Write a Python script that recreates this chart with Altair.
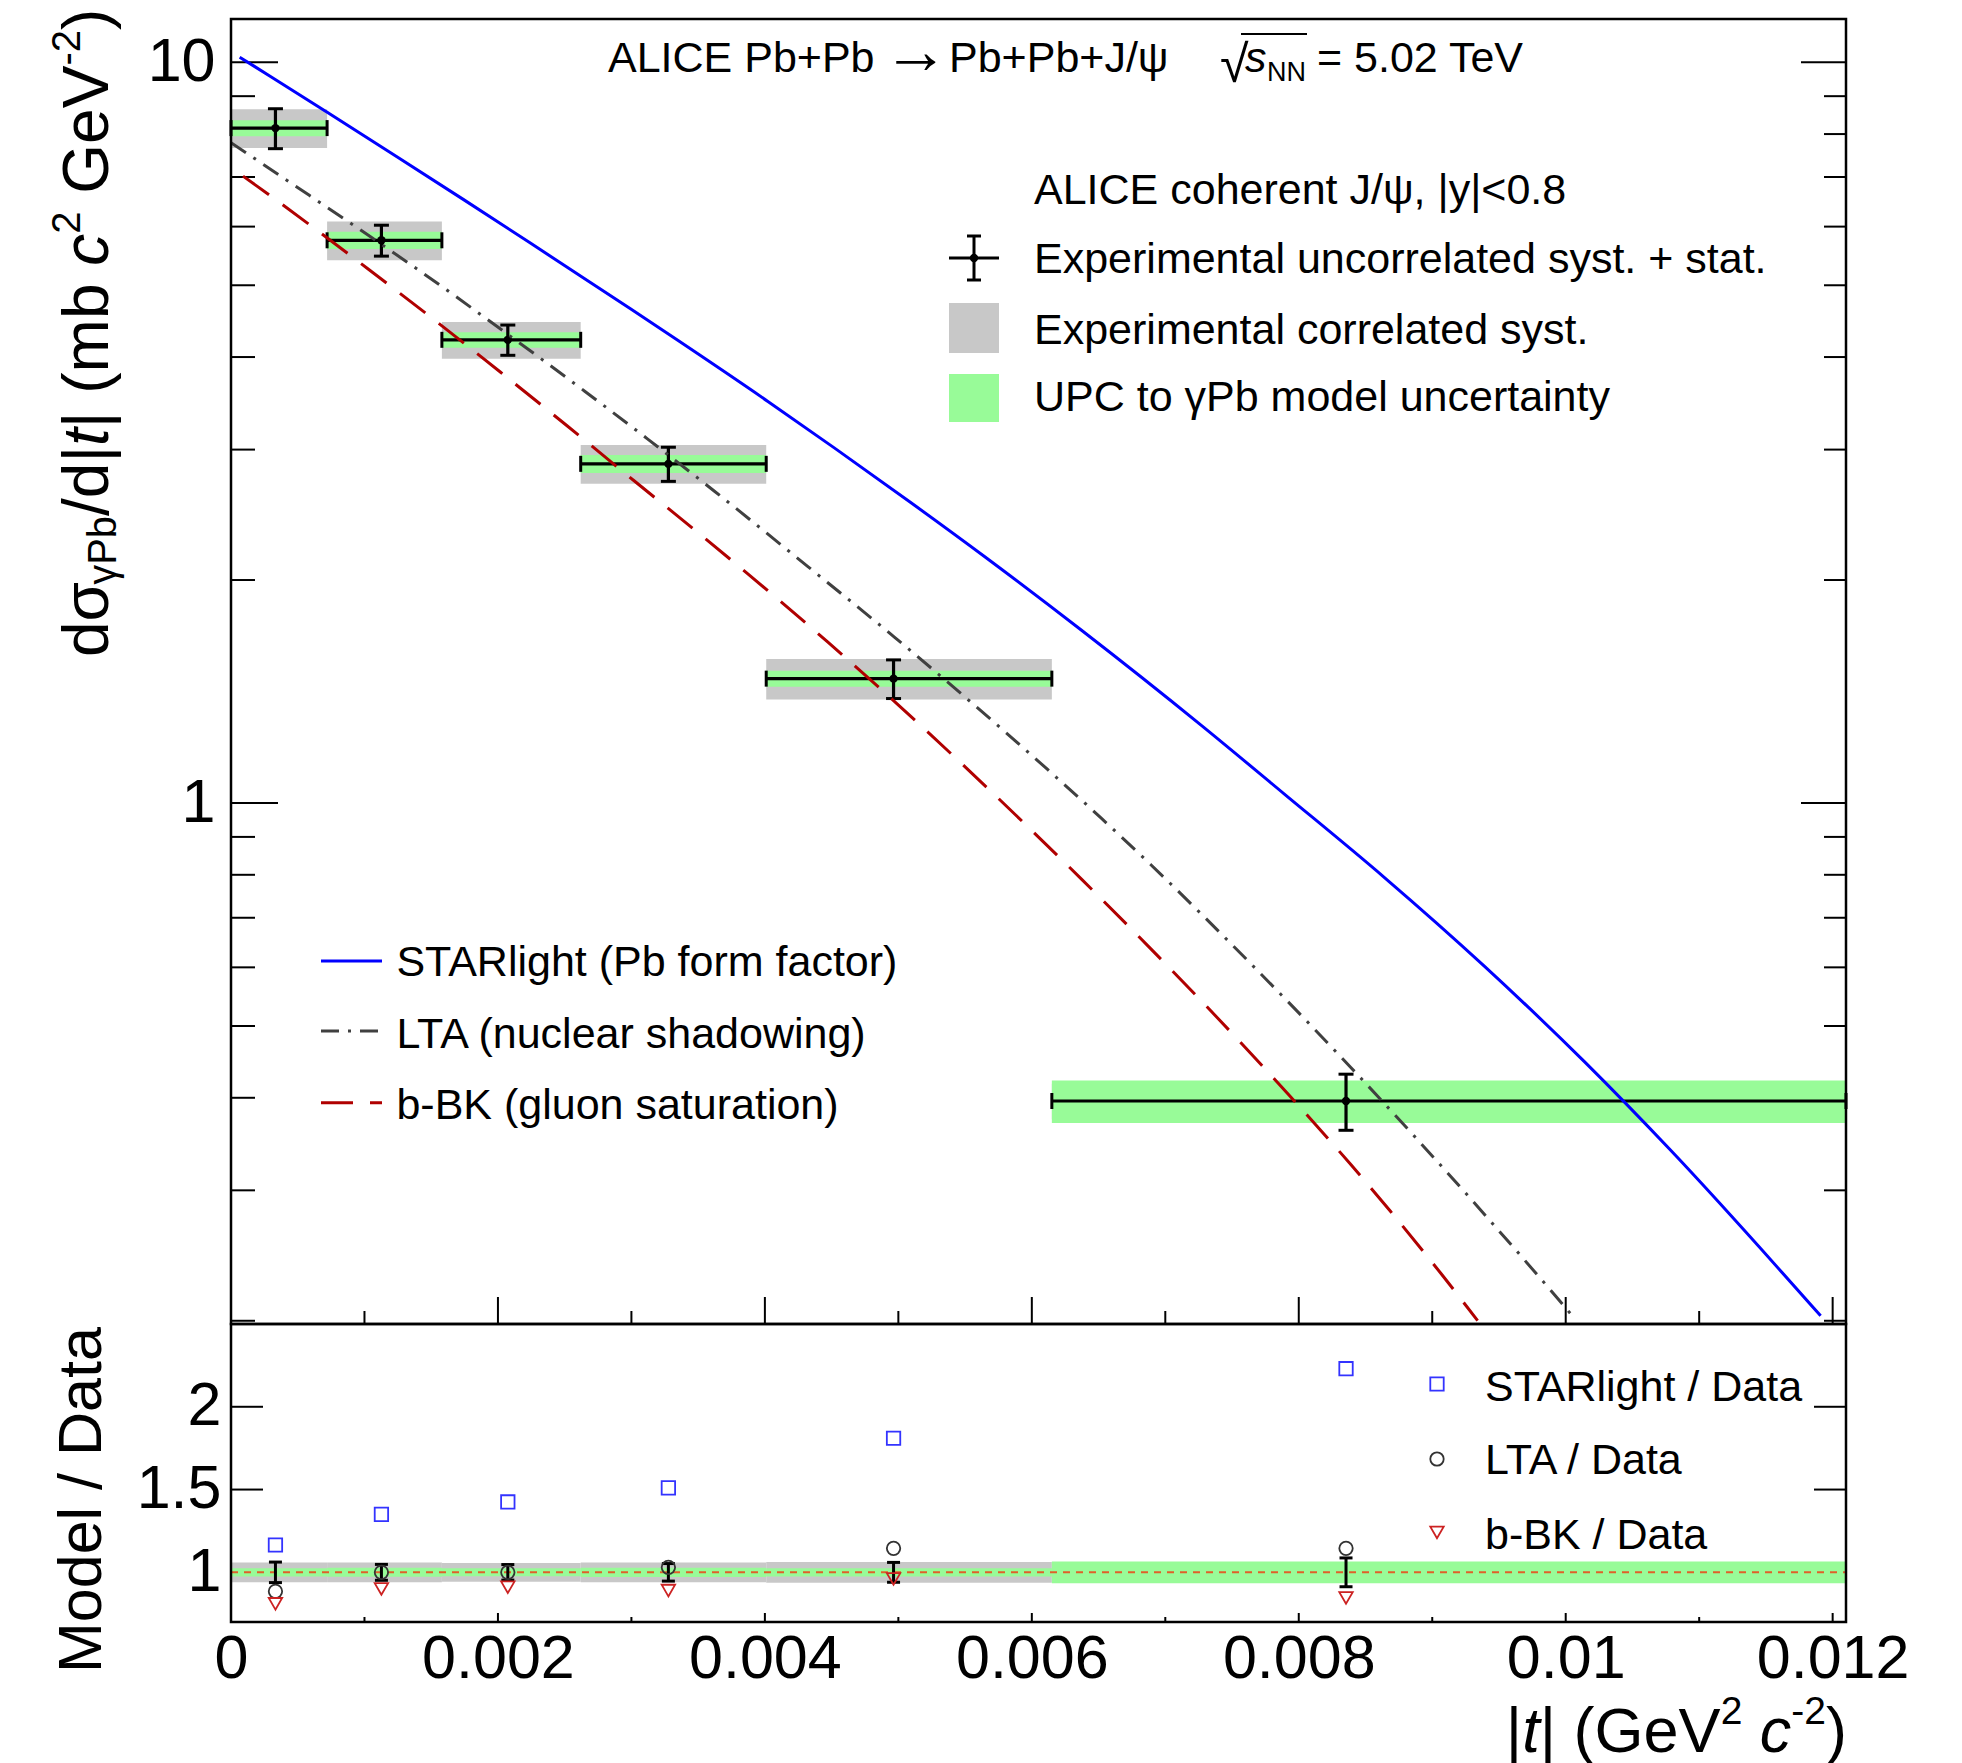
import altair as alt
import pandas as pd

# ----------------------------- data -----------------------------
bin_lo = [0.0, 0.00072, 0.00158, 0.00262, 0.00401, 0.00615]
bin_hi = [0.00072, 0.00158, 0.00262, 0.00401, 0.00615, 0.0121]
t_center = [0.000333, 0.001127, 0.002074, 0.003277, 0.004964, 0.008354]
dsigma = [8.15, 5.75, 4.22, 2.87, 1.472, 0.396]
rel_uncorr = [0.062, 0.048, 0.047, 0.053, 0.060, 0.087]
rel_corr = [0.060, 0.060, 0.057, 0.060, 0.063, 0.055]
rel_model = [0.025, 0.027, 0.024, 0.028, 0.025, 0.066]

ratio_starlight = [1.165, 1.35, 1.425, 1.51, 1.81, 2.23]
ratio_lta = [0.885, 1.0, 1.0, 1.03, 1.145, 1.145]
ratio_bbk = [0.81, 0.90, 0.91, 0.89, 0.96, 0.845]

starlight_t = [0.000065, 0.00029, 0.000715, 0.00124, 0.00174, 0.00224, 0.00261, 0.00299,
               0.00335, 0.00402, 0.00452, 0.00509, 0.00564, 0.00637, 0.00727, 0.00789,
               0.00864, 0.00939, 0.01014, 0.01079, 0.01191]
starlight_v = [10.16, 9.585, 8.574, 7.462, 6.530, 5.705, 5.159, 4.650, 4.210, 3.487, 3.016,
               2.547, 2.155, 1.712, 1.273, 1.029, 0.7938, 0.6023, 0.4475, 0.3392, 0.2031]
lta_t = [0.0, 0.000415, 0.00104, 0.00167, 0.00191, 0.00265, 0.00312, 0.00362, 0.00432,
         0.00497, 0.00547, 0.00612, 0.00652, 0.00689, 0.00764, 0.00839, 0.00889, 0.00944,
         0.00994, 0.01007]
lta_v = [7.79, 6.937, 5.821, 4.849, 4.511, 3.597, 3.102, 2.638, 2.087, 1.675, 1.405, 1.109,
         0.954, 0.826, 0.607, 0.4395, 0.3511, 0.2721, 0.2143, 0.2011]
bbk_t = [0.00009, 0.00029, 0.00059, 0.00102, 0.00152, 0.00202, 0.00252, 0.00302, 0.00352,
         0.00387, 0.00447, 0.00497, 0.00547, 0.00597, 0.00637, 0.00689, 0.00739, 0.00794,
         0.00839, 0.00869, 0.00907, 0.00934]
bbk_v = [7.02, 6.613, 6.032, 5.272, 4.494, 3.815, 3.228, 2.723, 2.301, 2.040, 1.650, 1.372,
         1.132, 0.929, 0.790, 0.636, 0.513, 0.401, 0.325, 0.2806, 0.2311, 0.2001]

x_ticks_major = [0.0, 0.002, 0.004, 0.006, 0.008, 0.010, 0.012]
x_ticks_minor = [0.001, 0.003, 0.005, 0.007, 0.009, 0.011]
y_ticks_major = [1, 10]
y_ticks_minor = [0.2, 0.3, 0.4, 0.5, 0.6, 0.7, 0.8, 0.9, 2, 3, 4, 5, 6, 7, 8, 9]
ratio_ticks = [1.0, 1.5, 2.0]

x_domain = [0.0, 0.0121]
y_domain = [0.198, 11.44]
ratio_domain = [0.7, 2.5]

# ----------------------------- style -----------------------------
FONT = "Liberation Sans"
W = 1615
H_UP = 1305
H_LO = 298
OX, OY_UP, OY_LO = 230, 18, 1323  # page positions of the plot origins (for text layout)

GREY = "#c8c8c8"
GREEN = "#98fb98"
BLUE = "#0000ff"
LTA_C = "#404040"
BBK_C = "#b00000"
LTA_DASH = [18, 9, 3, 9]
BBK_DASH = [32, 17]

CW = {' ': 278, '(': 333, ')': 333, '+': 584, ',': 278, '-': 333, '.': 278, '/': 278,
      ':': 278, '<': 584, '=': 584, '>': 584, '|': 260,
      'A': 667, 'B': 667, 'C': 722, 'D': 722, 'E': 667, 'F': 611, 'G': 778, 'H': 722,
      'I': 278, 'J': 500, 'K': 667, 'L': 556, 'M': 833, 'N': 722, 'O': 778, 'P': 667,
      'R': 722, 'S': 667, 'T': 611, 'U': 722, 'V': 667,
      'a': 556, 'b': 556, 'c': 500, 'd': 556, 'e': 556, 'f': 278, 'g': 556, 'h': 556,
      'i': 222, 'j': 222, 'k': 500, 'l': 222, 'm': 833, 'n': 556, 'o': 556, 'p': 556,
      'r': 333, 's': 500, 't': 278, 'u': 556, 'v': 500, 'w': 722, 'x': 500, 'y': 500,
      'σ': 571, 'γ': 500, 'ψ': 778, '→': 1000, '√': 549}


def tw(s, size):
    return sum(CW.get(ch, 556) for ch in s) / 1000.0 * size


def make_pieces(pieces, x0, y0, angle=0):
    rows, pos = [], 0.0
    for text, size, italic, shift in pieces:
        stripped = text.strip(' ')
        lead = len(text) - len(text.lstrip(' '))
        start = pos + tw(' ' * lead, size)
        if stripped:
            if angle == 0:
                rows.append(dict(text=stripped, x=x0 + start, y=y0 + shift, size=size,
                                 italic=italic, angle=0))
            else:
                rows.append(dict(text=stripped, x=x0 + shift, y=y0 - start, size=size,
                                 italic=italic, angle=270))
        pos += tw(text, size)
    return rows, pos


def text_layers(rows, font=FONT):
    df = pd.DataFrame(rows)
    out = []
    for it, style in [(False, 'normal'), (True, 'italic')]:
        sub = df[df['italic'] == it].reset_index(drop=True)
        if len(sub) == 0:
            continue
        out.append(alt.Chart(sub).mark_text(font=font, align='left', baseline='alphabetic',
                                            color='black', fontStyle=style).encode(
            x=alt.X('x:Q', scale=None, axis=None),
            y=alt.Y('y:Q', scale=None, axis=None),
            text='text:N',
            size=alt.Size('size:Q', scale=None, legend=None),
            angle=alt.Angle('angle:Q', scale=None, legend=None)))
    return out


def prule(x, x2, y, y2=None, color='black', width=2.5, dash=None):
    kw = dict(color=color, strokeWidth=width)
    if dash:
        kw['strokeDash'] = dash
    enc = dict(x=alt.value(x), x2=alt.value(x2), y=alt.value(y))
    if y2 is not None:
        enc['y2'] = alt.value(y2)
    return alt.Chart(pd.DataFrame({'a': [0]})).mark_rule(**kw).encode(**enc)


def prect(x, x2, y, y2, fill):
    return alt.Chart(pd.DataFrame({'a': [0]})).mark_rect(color=fill).encode(
        x=alt.value(x), x2=alt.value(x2), y=alt.value(y), y2=alt.value(y2))


# ----------------------------- tables -----------------------------
bins = pd.DataFrame(dict(lo=bin_lo, hi=bin_hi, t=t_center, v=dsigma,
                         eu=rel_uncorr, ec=rel_corr, em=rel_model))
bins['u_lo'] = bins.v * (1 - bins.eu)
bins['u_hi'] = bins.v * (1 + bins.eu)
bins['c_lo'] = bins.v * (1 - bins.ec)
bins['c_hi'] = bins.v * (1 + bins.ec)
bins['m_lo'] = bins.v * (1 - bins.em)
bins['m_hi'] = bins.v * (1 + bins.em)
bins['ru_lo'] = 1 - bins.eu
bins['ru_hi'] = 1 + bins.eu
bins['rc_lo'] = 1 - bins.ec
bins['rc_hi'] = 1 + bins.ec
bins['rm_lo'] = 1 - bins.em
bins['rm_hi'] = 1 + bins.em

edges = pd.DataFrame({'x': bin_lo + bin_hi, 'v': dsigma + dsigma})
vcaps = pd.DataFrame({'t': t_center * 2, 'y': list(bins.u_lo) + list(bins.u_hi)})
rcaps = pd.DataFrame({'t': t_center * 2, 'y': list(bins.ru_lo) + list(bins.ru_hi)})
curve_sl = pd.DataFrame({'t': starlight_t, 'v': starlight_v})
curve_lta = pd.DataFrame({'t': lta_t, 'v': lta_v})
curve_bbk = pd.DataFrame({'t': bbk_t, 'v': bbk_v})
ratios = pd.DataFrame({'t': t_center, 'sl': ratio_starlight, 'lta': ratio_lta, 'bbk': ratio_bbk})
line_one = pd.DataFrame({'a': [x_domain[0]], 'b': [x_domain[1]], 'y': [1.0]})

# ----------------------------- scales / axes -----------------------------
xs_up = alt.Scale(domain=x_domain, nice=False, zero=False)
xs_lo = alt.Scale(domain=x_domain, nice=False, zero=False)
ys_up = alt.Scale(type='log', domain=y_domain, nice=False)
ys_lo = alt.Scale(domain=ratio_domain, nice=False, zero=False)

yax_up = alt.Axis(values=y_ticks_major, format='~g', labelFont=FONT, labelFontSize=61,
                  labelColor='black', labelPadding=16, ticks=False, tickSize=0, domain=False,
                  grid=False, title=None, labelOverlap=False)
yax_lo = alt.Axis(values=ratio_ticks, format='~g', labelFont=FONT, labelFontSize=61,
                  labelColor='black', labelPadding=10, ticks=False, tickSize=0, domain=False,
                  grid=False, title=None, labelOverlap=False, labelFlush=False)
xax_lo = alt.Axis(values=x_ticks_major, format='~g', labelFont=FONT, labelFontSize=61,
                  labelColor='black', labelPadding=7, ticks=False, tickSize=0, domain=False,
                  grid=False, title=None, labelOverlap=False, labelFlush=False)


def XU(f):
    return alt.X(f, type='quantitative', scale=xs_up, axis=None)


def YU(f):
    return alt.Y(f, type='quantitative', scale=ys_up, axis=yax_up)


def XL(f):
    return alt.X(f, type='quantitative', scale=xs_lo, axis=xax_lo)


def YL(f):
    return alt.Y(f, type='quantitative', scale=ys_lo, axis=yax_lo)


# ----------------------------- upper panel -----------------------------
up = []
# anchor fixing the page offset of the plot area
up.append(prule(-222, -221, -10, -9, color='white', width=1))
# ticks (ROOT style, inside)
up.append(alt.Chart(pd.DataFrame({'v': y_ticks_major})).mark_rule(color='black', strokeWidth=2)
          .encode(y=YU('v'), x=alt.value(0), x2=alt.value(47)))
up.append(alt.Chart(pd.DataFrame({'v': y_ticks_minor})).mark_rule(color='black', strokeWidth=2)
          .encode(y=YU('v'), x=alt.value(0), x2=alt.value(24)))
up.append(alt.Chart(pd.DataFrame({'v': y_ticks_major})).mark_rule(color='black', strokeWidth=2)
          .encode(y=YU('v'), x=alt.value(W - 45), x2=alt.value(W)))
up.append(alt.Chart(pd.DataFrame({'v': y_ticks_minor})).mark_rule(color='black', strokeWidth=2)
          .encode(y=YU('v'), x=alt.value(W - 22), x2=alt.value(W)))
up.append(alt.Chart(pd.DataFrame({'t': x_ticks_major})).mark_rule(color='black', strokeWidth=2)
          .encode(x=XU('t'), y=alt.value(H_UP - 27), y2=alt.value(H_UP)))
up.append(alt.Chart(pd.DataFrame({'t': x_ticks_minor})).mark_rule(color='black', strokeWidth=2)
          .encode(x=XU('t'), y=alt.value(H_UP - 13), y2=alt.value(H_UP)))
# uncertainty boxes
up.append(alt.Chart(bins).mark_rect(color=GREY).encode(
    x=XU('lo'), x2='hi', y=YU('c_lo'), y2='c_hi'))
up.append(alt.Chart(bins).mark_rect(color=GREEN).encode(
    x=XU('lo'), x2='hi', y=YU('m_lo'), y2='m_hi'))
# data points with error bars
up.append(alt.Chart(bins).mark_rule(color='black', strokeWidth=3.2).encode(
    x=XU('lo'), x2='hi', y=YU('v')))
up.append(alt.Chart(edges).mark_tick(orient='vertical', size=16, thickness=3, color='black',
                                     opacity=1).encode(x=XU('x'), y=YU('v')))
up.append(alt.Chart(bins).mark_rule(color='black', strokeWidth=3.2).encode(
    x=XU('t'), y=YU('u_lo'), y2='u_hi'))
up.append(alt.Chart(vcaps).mark_tick(orient='horizontal', size=15, thickness=3, color='black',
                                     opacity=1).encode(x=XU('t'), y=YU('y')))
up.append(alt.Chart(bins).mark_point(shape='circle', filled=True, size=70, color='black',
                                     opacity=1).encode(x=XU('t'), y=YU('v')))
# model curves
up.append(alt.Chart(curve_sl).mark_line(color=BLUE, strokeWidth=3, clip=True,
                                        interpolate='monotone').encode(x=XU('t'), y=YU('v')))
up.append(alt.Chart(curve_lta).mark_line(color=LTA_C, strokeWidth=3, strokeDash=LTA_DASH,
                                         clip=True, interpolate='monotone').encode(
    x=XU('t'), y=YU('v')))
up.append(alt.Chart(curve_bbk).mark_line(color=BBK_C, strokeWidth=3, strokeDash=BBK_DASH,
                                         clip=True, interpolate='monotone').encode(
    x=XU('t'), y=YU('v')))

# legend A symbols (pixel positions relative to upper plot origin)
up.append(prule(743, 743, 217, 261, width=3))
up.append(prule(736, 750, 217, width=3))
up.append(prule(736, 750, 261, width=3))
up.append(prule(718, 768, 239, width=3))
up.append(alt.Chart(pd.DataFrame({'a': [0]})).mark_point(shape='circle', filled=True, size=70,
                                                         color='black', opacity=1).encode(
    x=alt.value(743), y=alt.value(239)))
up.append(prect(718, 768, 284, 334, GREY))
up.append(prect(718, 768, 355, 403, GREEN))
# legend B line symbols
up.append(prule(90, 151, 942, color=BLUE, width=3))
up.append(prule(90, 151, 1012, color=LTA_C, width=3, dash=LTA_DASH))
up.append(prule(90, 151, 1083.7, color=BBK_C, width=3, dash=BBK_DASH))
# sqrt overline in the title
up.append(prule(1010, 1076, 15, width=2))

rows_up = []
# title
r, _ = make_pieces([("ALICE Pb+Pb", 43, False, 0)], 377, 52.7)
rows_up += r
r, _ = make_pieces([("→", 66, False, 0)], 652, 53.5)
rows_up += r
r, _ = make_pieces([("Pb+Pb+J/ψ", 43, False, 0)], 718, 52.7)
rows_up += r
r, _ = make_pieces([("√", 52, False, 0)], 989, 63)
rows_up += r
r, _ = make_pieces([("s", 43, True, 0)], 1014, 52.7)
rows_up += r
r, _ = make_pieces([("NN", 27, False, 0)], 1036, 62)
rows_up += r
r, _ = make_pieces([("= 5.02 TeV", 43, False, 0)], 1086, 52.7)
rows_up += r
# legend A texts
for txt, yb in [("ALICE coherent J/ψ, |y|<0.8", 185.3),
                ("Experimental uncorrelated syst. + stat.", 253.7),
                ("Experimental correlated syst.", 325.3),
                ("UPC to γPb model uncertainty", 392.0)]:
    r, _ = make_pieces([(txt, 43, False, 0)], 803, yb)
    rows_up += r
# legend B texts
for txt, yb in [("STARlight (Pb form factor)", 957.0),
                ("LTA (nuclear shadowing)", 1028.7),
                ("b-BK (gluon saturation)", 1100.3)]:
    r, _ = make_pieces([(txt, 43, False, 0)], 165.4, yb)
    rows_up += r
# y title (rotated)
r, _ = make_pieces([("d", 64, False, 0), ("σ", 64, False, 0), ("γPb", 40, False, 8),
                    ("/d|", 64, False, 0), ("t", 64, True, 0), ("| (mb ", 64, False, 0),
                    ("c", 64, True, 0), ("2", 40, False, -28), (" GeV", 64, False, 0),
                    ("-2", 40, False, -28), (")", 64, False, 0)],
                   107 - OX, 656 - OY_UP, angle=270)
rows_up += r
up += text_layers(rows_up)
# frame
up.append(alt.Chart(pd.DataFrame({'a': [0]})).mark_rect(fillOpacity=0, stroke='black',
                                                        strokeWidth=2.5).encode(
    x=alt.value(0), x2=alt.value(W), y=alt.value(0), y2=alt.value(H_UP)))

upper = alt.layer(*up).properties(width=W, height=H_UP)

# ----------------------------- lower panel -----------------------------
lo = []
lo.append(alt.Chart(pd.DataFrame({'v': ratio_ticks})).mark_rule(color='black', strokeWidth=2)
          .encode(y=YL('v'), x=alt.value(0), x2=alt.value(32)))
lo.append(alt.Chart(pd.DataFrame({'v': ratio_ticks})).mark_rule(color='black', strokeWidth=2)
          .encode(y=YL('v'), x=alt.value(W - 32), x2=alt.value(W)))
lo.append(alt.Chart(pd.DataFrame({'t': x_ticks_major})).mark_rule(color='black', strokeWidth=2)
          .encode(x=XL('t'), y=alt.value(H_LO - 9), y2=alt.value(H_LO)))
lo.append(alt.Chart(pd.DataFrame({'t': x_ticks_minor})).mark_rule(color='black', strokeWidth=2)
          .encode(x=XL('t'), y=alt.value(H_LO - 5), y2=alt.value(H_LO)))
lo.append(alt.Chart(bins).mark_rect(color=GREY).encode(
    x=XL('lo'), x2='hi', y=YL('rc_lo'), y2='rc_hi'))
lo.append(alt.Chart(bins).mark_rect(color=GREEN).encode(
    x=XL('lo'), x2='hi', y=YL('rm_lo'), y2='rm_hi'))
lo.append(alt.Chart(line_one).mark_rule(color='#e0602a', strokeWidth=2, strokeDash=[7, 6])
          .encode(x=XL('a'), x2='b', y=YL('y')))
lo.append(alt.Chart(bins).mark_rule(color='black', strokeWidth=3).encode(
    x=XL('t'), y=YL('ru_lo'), y2='ru_hi'))
lo.append(alt.Chart(rcaps).mark_tick(orient='horizontal', size=13, thickness=3, color='black',
                                     opacity=1).encode(x=XL('t'), y=YL('y')))
lo.append(alt.Chart(ratios).mark_point(shape='square', filled=False, size=180, strokeWidth=1.8,
                                       color='#3333ff', opacity=1).encode(x=XL('t'), y=YL('sl')))
lo.append(alt.Chart(ratios).mark_point(shape='circle', filled=False, size=180, strokeWidth=1.8,
                                       color='#333333', opacity=1).encode(x=XL('t'), y=YL('lta')))
lo.append(alt.Chart(ratios).mark_point(shape='triangle-down', filled=False, size=180,
                                       strokeWidth=1.8, color='#cc2222', opacity=1)
          .encode(x=XL('t'), y=YL('bbk')))
# lower legend markers
for shape, col, yy in [('square', '#3333ff', 60), ('circle', '#333333', 135),
                       ('triangle-down', '#cc2222', 208.5)]:
    lo.append(alt.Chart(pd.DataFrame({'a': [0]})).mark_point(
        shape=shape, filled=False, size=180, strokeWidth=1.8, color=col, opacity=1).encode(
        x=alt.value(1206), y=alt.value(yy)))

rows_lo = []
for txt, yb in [("STARlight / Data", 77), ("LTA / Data", 150), ("b-BK / Data", 225)]:
    r, _ = make_pieces([(txt, 43, False, 0)], 1254, yb)
    rows_lo += r
r, _ = make_pieces([("Model / Data", 61, False, 0)], 100 - OX, 1672 - OY_LO, angle=270)
rows_lo += r
xt = [("|", 63, False, 0), ("t", 63, True, 0), ("| (GeV", 63, False, 0), ("2", 39, False, -28),
      (" ", 63, False, 0), ("c", 63, True, 0), ("-2", 39, False, -28), (")", 63, False, 0)]
_, xt_w = make_pieces(xt, 0, 0)
r, _ = make_pieces(xt, W + 1 - xt_w, 428)
rows_lo += r
lo += text_layers(rows_lo)
lo.append(alt.Chart(pd.DataFrame({'a': [0]})).mark_rect(fillOpacity=0, stroke='black',
                                                        strokeWidth=2.5).encode(
    x=alt.value(0), x2=alt.value(W), y=alt.value(0), y2=alt.value(H_LO)))

lower = alt.layer(*lo).properties(width=W, height=H_LO)

chart = alt.vconcat(upper, lower, spacing=0, bounds='flush').properties(
    padding=0, background='white'
).configure_view(strokeWidth=0)

chart.save("out.html", embed_options={"renderer": "svg", "actions": False})
